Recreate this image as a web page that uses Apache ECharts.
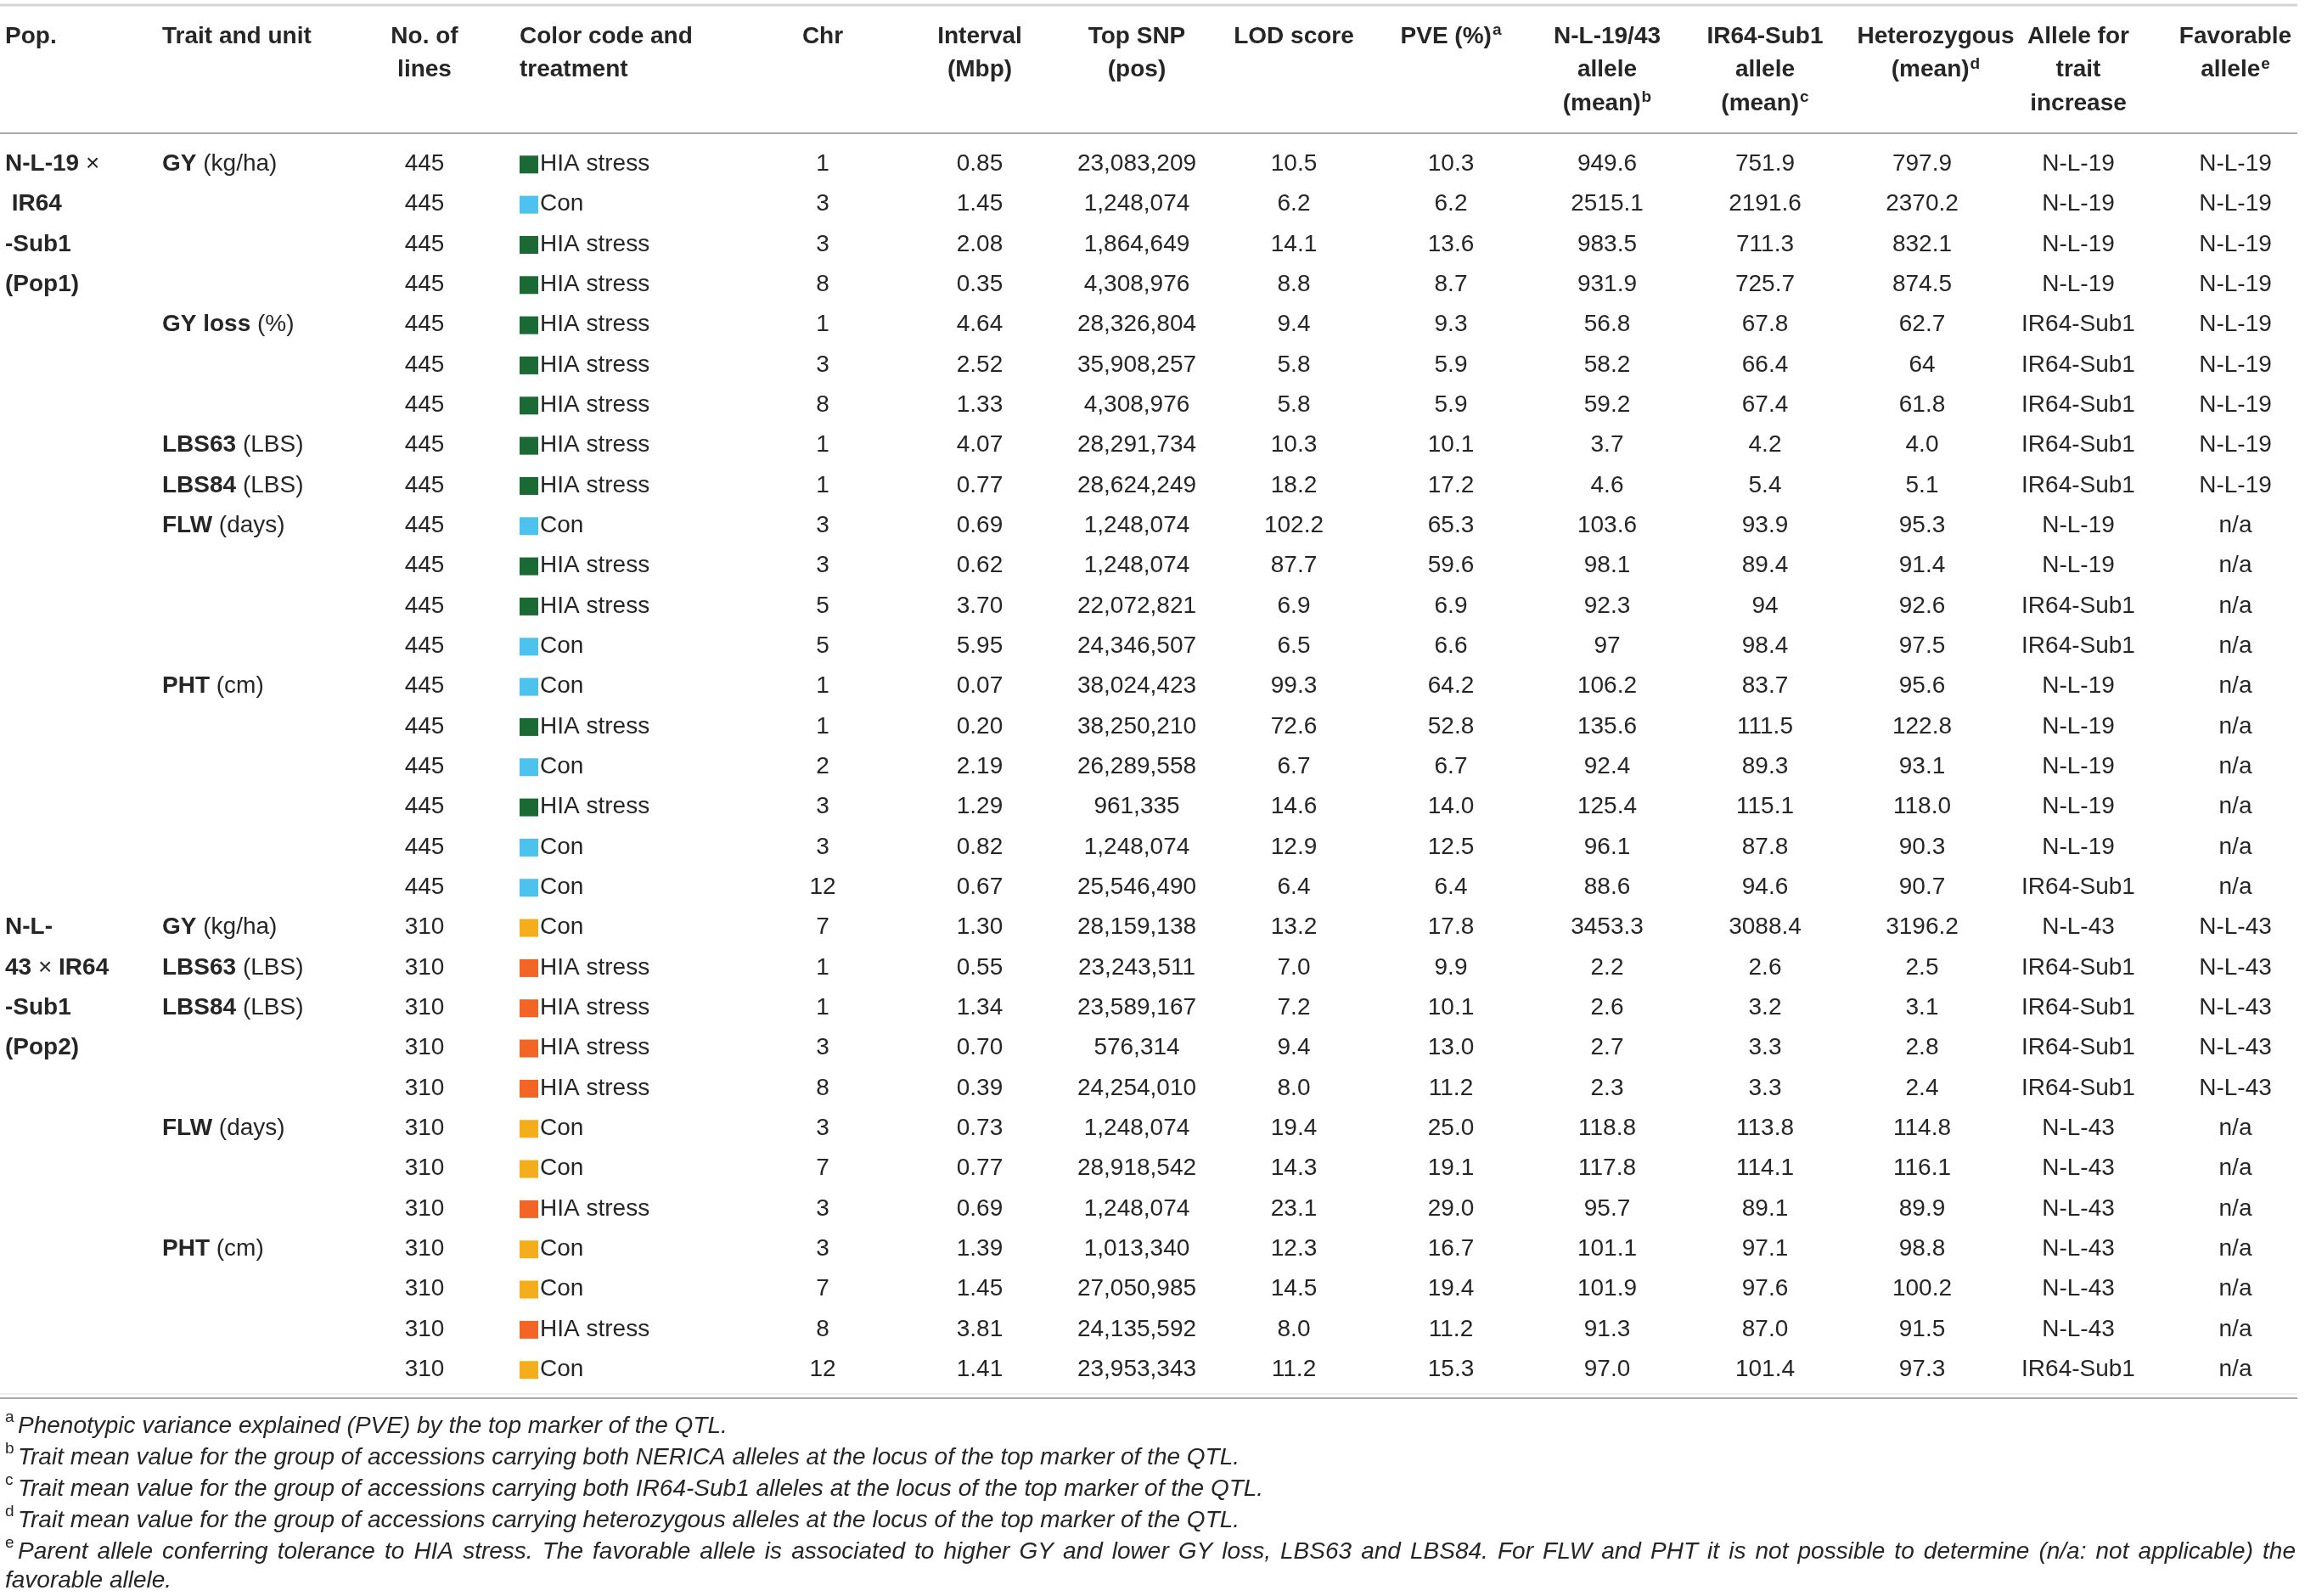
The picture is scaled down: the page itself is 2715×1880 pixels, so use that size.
<!DOCTYPE html>
<html>
<head>
<meta charset="utf-8">
<script src="https://cdn.jsdelivr.net/npm/echarts@6/dist/echarts.min.js"></script>
<style>
  html, body { margin: 0; padding: 0; background: #fff; }
  #chart { width: 2715px; height: 1880px; }
</style>
</head>
<body>
<div id="chart"></div>
<script>
// ---- table data, one entry per row ----
const popLabel = [
  '{b|N-L-19} \u00d7', ' {b|IR64}', '{b|-Sub1}', '{b|(Pop1)}', '', '', '', '', '', '',
  '', '', '', '', '', '', '', '', '', '{b|N-L-}',
  '{b|43} \u00d7 {b|IR64}', '{b|-Sub1}', '{b|(Pop2)}', '', '', '', '', '', '', '', ''
];
const traitName = [
  'GY', '', '', '', 'GY loss', '', '', 'LBS63', 'LBS84', 'FLW',
  '', '', '', 'PHT', '', '', '', '', '', 'GY',
  'LBS63', 'LBS84', '', '', 'FLW', '', '', 'PHT', '', '', ''
];
const traitUnit = [
  '(kg/ha)', '', '', '', '(%)', '', '', '(LBS)', '(LBS)', '(days)',
  '', '', '', '(cm)', '', '', '', '', '', '(kg/ha)',
  '(LBS)', '(LBS)', '', '', '(days)', '', '', '(cm)', '', '', ''
];
const noOfLines = [
  445, 445, 445, 445, 445, 445, 445, 445, 445, 445,
  445, 445, 445, 445, 445, 445, 445, 445, 445, 310,
  310, 310, 310, 310, 310, 310, 310, 310, 310, 310, 310
];
// colour code: G = green, B = blue, Y = yellow, O = orange
const colorCode = [
  'G', 'B', 'G', 'G', 'G', 'G', 'G', 'G', 'G', 'B',
  'G', 'G', 'B', 'B', 'G', 'B', 'G', 'B', 'B', 'Y',
  'O', 'O', 'O', 'O', 'Y', 'Y', 'O', 'Y', 'Y', 'O', 'Y'
];
const treatment = [
  'HIA stress', 'Con', 'HIA stress', 'HIA stress', 'HIA stress', 'HIA stress', 'HIA stress', 'HIA stress', 'HIA stress', 'Con',
  'HIA stress', 'HIA stress', 'Con', 'Con', 'HIA stress', 'Con', 'HIA stress', 'Con', 'Con', 'Con',
  'HIA stress', 'HIA stress', 'HIA stress', 'HIA stress', 'Con', 'Con', 'HIA stress', 'Con', 'Con', 'HIA stress', 'Con'
];
const chr = [
  1, 3, 3, 8, 1, 3, 8, 1, 1, 3,
  3, 5, 5, 1, 1, 2, 3, 3, 12, 7,
  1, 1, 3, 8, 3, 7, 3, 3, 7, 8, 12
];
const interval = [
  '0.85', '1.45', '2.08', '0.35', '4.64', '2.52', '1.33', '4.07', '0.77', '0.69',
  '0.62', '3.70', '5.95', '0.07', '0.20', '2.19', '1.29', '0.82', '0.67', '1.30',
  '0.55', '1.34', '0.70', '0.39', '0.73', '0.77', '0.69', '1.39', '1.45', '3.81', '1.41'
];
const topSnp = [
  '23,083,209', '1,248,074', '1,864,649', '4,308,976', '28,326,804', '35,908,257', '4,308,976', '28,291,734', '28,624,249', '1,248,074',
  '1,248,074', '22,072,821', '24,346,507', '38,024,423', '38,250,210', '26,289,558', '961,335', '1,248,074', '25,546,490', '28,159,138',
  '23,243,511', '23,589,167', '576,314', '24,254,010', '1,248,074', '28,918,542', '1,248,074', '1,013,340', '27,050,985', '24,135,592', '23,953,343'
];
const lodScore = [
  '10.5', '6.2', '14.1', '8.8', '9.4', '5.8', '5.8', '10.3', '18.2', '102.2',
  '87.7', '6.9', '6.5', '99.3', '72.6', '6.7', '14.6', '12.9', '6.4', '13.2',
  '7.0', '7.2', '9.4', '8.0', '19.4', '14.3', '23.1', '12.3', '14.5', '8.0', '11.2'
];
const pve = [
  '10.3', '6.2', '13.6', '8.7', '9.3', '5.9', '5.9', '10.1', '17.2', '65.3',
  '59.6', '6.9', '6.6', '64.2', '52.8', '6.7', '14.0', '12.5', '6.4', '17.8',
  '9.9', '10.1', '13.0', '11.2', '25.0', '19.1', '29.0', '16.7', '19.4', '11.2', '15.3'
];
const nlMean = [
  '949.6', '2515.1', '983.5', '931.9', '56.8', '58.2', '59.2', '3.7', '4.6', '103.6',
  '98.1', '92.3', '97', '106.2', '135.6', '92.4', '125.4', '96.1', '88.6', '3453.3',
  '2.2', '2.6', '2.7', '2.3', '118.8', '117.8', '95.7', '101.1', '101.9', '91.3', '97.0'
];
const irMean = [
  '751.9', '2191.6', '711.3', '725.7', '67.8', '66.4', '67.4', '4.2', '5.4', '93.9',
  '89.4', '94', '98.4', '83.7', '111.5', '89.3', '115.1', '87.8', '94.6', '3088.4',
  '2.6', '3.2', '3.3', '3.3', '113.8', '114.1', '89.1', '97.1', '97.6', '87.0', '101.4'
];
const hetMean = [
  '797.9', '2370.2', '832.1', '874.5', '62.7', '64', '61.8', '4.0', '5.1', '95.3',
  '91.4', '92.6', '97.5', '95.6', '122.8', '93.1', '118.0', '90.3', '90.7', '3196.2',
  '2.5', '3.1', '2.8', '2.4', '114.8', '116.1', '89.9', '98.8', '100.2', '91.5', '97.3'
];
const alleleIncrease = [
  'N-L-19', 'N-L-19', 'N-L-19', 'N-L-19', 'IR64-Sub1', 'IR64-Sub1', 'IR64-Sub1', 'IR64-Sub1', 'IR64-Sub1', 'N-L-19',
  'N-L-19', 'IR64-Sub1', 'IR64-Sub1', 'N-L-19', 'N-L-19', 'N-L-19', 'N-L-19', 'N-L-19', 'IR64-Sub1', 'N-L-43',
  'IR64-Sub1', 'IR64-Sub1', 'IR64-Sub1', 'IR64-Sub1', 'N-L-43', 'N-L-43', 'N-L-43', 'N-L-43', 'N-L-43', 'N-L-43', 'IR64-Sub1'
];
const favorableAllele = [
  'N-L-19', 'N-L-19', 'N-L-19', 'N-L-19', 'N-L-19', 'N-L-19', 'N-L-19', 'N-L-19', 'N-L-19', 'n/a',
  'n/a', 'n/a', 'n/a', 'n/a', 'n/a', 'n/a', 'n/a', 'n/a', 'n/a', 'N-L-43',
  'N-L-43', 'N-L-43', 'N-L-43', 'N-L-43', 'n/a', 'n/a', 'n/a', 'n/a', 'n/a', 'n/a', 'n/a'
];

// header cells: each line is [text, superscript]
const headerText = [
  [['Pop.', '']],
  [['Trait and unit', '']],
  [['No. of', ''], ['lines', '']],
  [['Color code and', ''], ['treatment', '']],
  [['Chr', '']],
  [['Interval', ''], ['(Mbp)', '']],
  [['Top SNP', ''], ['(pos)', '']],
  [['LOD score', '']],
  [['PVE (%)', 'a']],
  [['N-L-19/43', ''], ['allele', ''], ['(mean)', 'b']],
  [['IR64-Sub1', ''], ['allele', ''], ['(mean)', 'c']],
  [['Heterozygous', ''], ['(mean)', 'd']],
  [['Allele for', ''], ['trait', ''], ['increase', '']],
  [['Favorable', ''], ['allele', 'e']]
];

const footMark = ['a', 'b', 'c', 'd', 'e', ''];
const footText = [
  'Phenotypic variance explained (PVE) by the top marker of the QTL.',
  'Trait mean value for the group of accessions carrying both NERICA alleles at the locus of the top marker of the QTL.',
  'Trait mean value for the group of accessions carrying both IR64-Sub1 alleles at the locus of the top marker of the QTL.',
  'Trait mean value for the group of accessions carrying heterozygous alleles at the locus of the top marker of the QTL.',
  'Parent allele conferring tolerance to HIA stress. The favorable allele is associated to higher GY and lower GY loss, LBS63 and LBS84. For FLW and PHT it is not possible to determine (n/a: not applicable) the',
  'favorable allele.'
];

// ---- layout & style ----
const FAMILY = '"Liberation Sans", Arial, Helvetica, sans-serif';
const INK = '#262626';
const BODY = '28px ' + FAMILY;
const BOLD = 'bold 28px ' + FAMILY;
const SUP_BOLD = 'bold 19px ' + FAMILY;
const FOOT = 'italic 28px ' + FAMILY;
const SUP_FOOT = '19px ' + FAMILY;
const SWATCH = { G: '#1b6a36', B: '#4dc2ef', Y: '#f5ae1b', O: '#f26524' };

// column anchors in page pixels (x axis runs 0..2715)
const colX = {
  pop: 6, trait: 191, lines: 500, swatch: 612, treat: 636, chr: 969,
  interval: 1154, snp: 1339, lod: 1524, pve: 1709, nl: 1893, ir: 2079,
  het: 2264, inc: 2448, fav: 2633
};
const headerX = [
  [colX.pop, 'left'], [colX.trait, 'left'], [colX.lines, 'center'], [colX.swatch, 'left'],
  [colX.chr, 'center'], [colX.interval, 'center'], [colX.snp, 'center'], [colX.lod, 'center'],
  [colX.pve, 'center'], [colX.nl, 'center'], [colX.ir, 'center'], [2280, 'center'],
  [colX.inc, 'center'], [colX.fav, 'center']
];
const footY = [1680, 1717, 1754, 1791, 1828, 1862];

const nRows = traitName.length;
const rowStep = 47.33;
const rowTop = 193.3 - rowStep / 2;

const chart = echarts.init(document.getElementById('chart'), null, { renderer: 'canvas' });

function renderRow(params, api) {
  const i = params.dataIndex;
  const X = v => api.coord([v, i])[0];
  const y = api.coord([0, i])[1];
  const kids = [];
  const cell = (x, text, align) => {
    if (text === '' || text == null) return;
    kids.push({
      type: 'text', x: X(x), y: y,
      style: { text: String(text), font: BODY, fill: INK, align: align || 'center', verticalAlign: 'middle' }
    });
  };
  const richCell = (x, text) => kids.push({
    type: 'text', x: X(x), y: y,
    style: {
      text: text, font: BODY, fill: INK, align: 'left', verticalAlign: 'middle',
      rich: { b: { font: BOLD, fill: INK } }
    }
  });
  if (popLabel[i]) richCell(colX.pop, popLabel[i]);
  if (traitName[i]) richCell(colX.trait, '{b|' + traitName[i] + '} ' + traitUnit[i]);
  cell(colX.lines, noOfLines[i]);
  kids.push({
    type: 'rect',
    shape: { x: X(colX.swatch), y: y - 10, width: 22, height: 21 },
    style: { fill: SWATCH[colorCode[i]] }
  });
  cell(colX.treat, treatment[i], 'left');
  cell(colX.chr, chr[i]);
  cell(colX.interval, interval[i]);
  cell(colX.snp, topSnp[i]);
  cell(colX.lod, lodScore[i]);
  cell(colX.pve, pve[i]);
  cell(colX.nl, nlMean[i]);
  cell(colX.ir, irMean[i]);
  cell(colX.het, hetMean[i]);
  cell(colX.inc, alleleIncrease[i]);
  cell(colX.fav, favorableAllele[i]);
  return { type: 'group', children: kids };
}

// ---- header, rules and footnotes as graphic elements ----
const measure = document.createElement('canvas').getContext('2d');
const textWidth = (t, font) => { measure.font = font; return measure.measureText(t).width; };
const graphics = [];
const addText = (x, y, text, font, align) => graphics.push({
  type: 'text', x: x, y: y, silent: true,
  style: { text: text, font: font, fill: INK, align: align || 'left', verticalAlign: 'middle' }
});
const rule = (y, color, w) => graphics.push({
  type: 'line', silent: true, shape: { x1: 0, y1: y, x2: 2706, y2: y },
  style: { stroke: color, lineWidth: w }
});
rule(6, '#d4d4d4', 3);
rule(157, '#a9a9a9', 2);
rule(1642, '#efefef', 2);
rule(1647, '#a9a9a9', 2);

headerText.forEach((lines, c) => {
  const [cx, align] = headerX[c];
  lines.forEach(([t, sup], k) => {
    const y = 43 + k * 39.5;
    const wMain = textWidth(t, BOLD);
    const wSup = sup ? textWidth(sup, SUP_BOLD) + 1 : 0;
    const left = align === 'center' ? cx - (wMain + wSup) / 2 : cx;
    addText(left, y, t, BOLD);
    if (sup) addText(left + wMain + 1, y - 7, sup, SUP_BOLD);
  });
});

footText.forEach((t, k) => {
  const y = footY[k];
  if (footMark[k]) addText(6, y - 10, footMark[k], SUP_FOOT);
  const x0 = footMark[k] ? 21 : 6;
  if (k === 4) {
    // the wrapped line is justified to the table width
    const words = t.split(' ');
    const widths = words.map(w => textWidth(w, FOOT));
    const sum = widths.reduce((a, b) => a + b, 0);
    const gap = Math.max(4, (2704 - x0 - sum) / (words.length - 1));
    let x = x0;
    words.forEach((w, j) => {
      addText(x, y, w, FOOT);
      x += widths[j] + gap;
    });
  } else {
    addText(x0, y, t, FOOT);
  }
});

chart.setOption({
  animation: false,
  backgroundColor: '#ffffff',
  grid: { left: 0, right: 0, top: rowTop, height: rowStep * nRows, containLabel: false },
  xAxis: { type: 'value', min: 0, max: 2715, show: false },
  yAxis: { type: 'value', min: -0.5, max: nRows - 0.5, inverse: true, show: false },
  graphic: graphics,
  series: [{
    type: 'custom',
    coordinateSystem: 'cartesian2d',
    clip: false,
    silent: true,
    encode: { x: 0, y: 1 },
    data: traitName.map((_, i) => [0, i]),
    renderItem: renderRow
  }]
});
</script>
</body>
</html>
